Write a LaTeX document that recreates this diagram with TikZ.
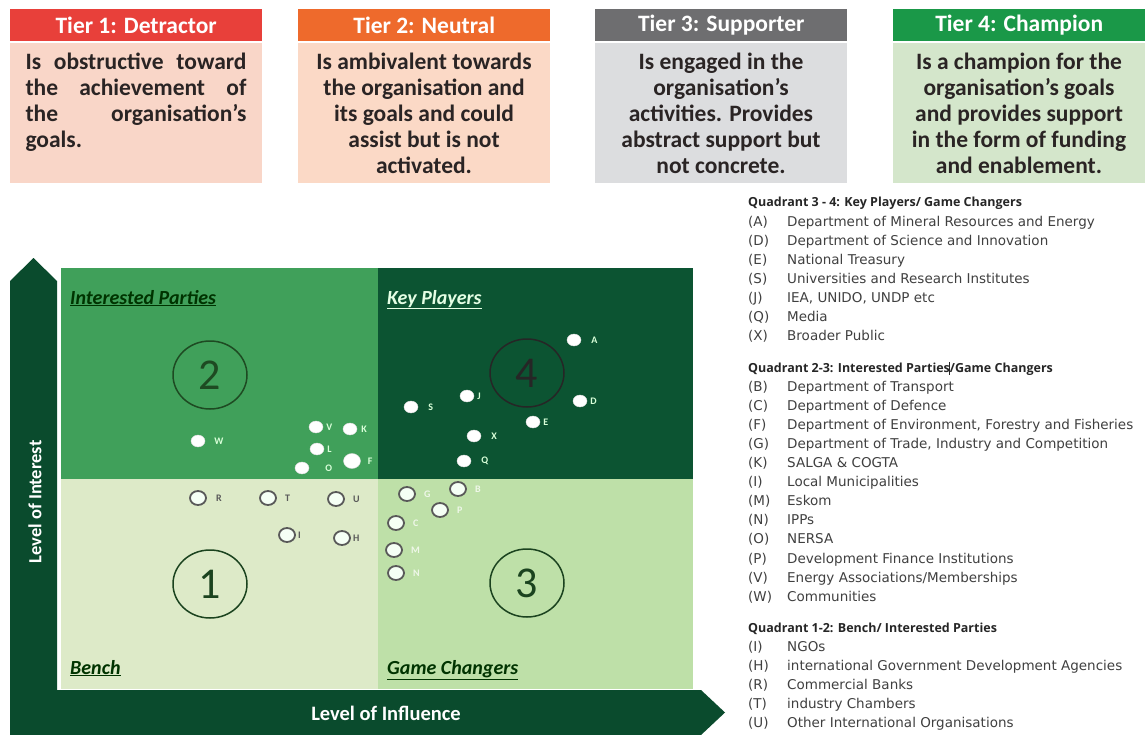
\documentclass[tikz,border=0pt]{standalone}
\usepackage{fontspec}
\setmainfont{Carlito}
\newfontfamily\legendfont{DejaVu Sans}
\newfontfamily\legendheadfont{Open Sans}
\usetikzlibrary{shapes.geometric}

\definecolor{hdred}{HTML}{E8403A}
\definecolor{hdorange}{HTML}{EE6A2C}
\definecolor{hdgray}{HTML}{6E6E70}
\definecolor{hdgreen}{HTML}{1A9848}
\definecolor{bdpeach}{HTML}{F9D6C8}
\definecolor{bdpeachb}{HTML}{FBD9C6}
\definecolor{bdgray}{HTML}{DCDDDF}
\definecolor{bdgreen}{HTML}{D4E6CB}
\definecolor{bodytext}{HTML}{2A2424}
\definecolor{qtwo}{HTML}{40A05A}
\definecolor{qfour}{HTML}{0C5432}
\definecolor{qone}{HTML}{DDEAC8}
\definecolor{qthree}{HTML}{BEE0A8}
\definecolor{axisgreen}{HTML}{0A4B2D}
\definecolor{ringgreen}{HTML}{1E4A22}
\definecolor{legendtext}{HTML}{404040}

\begin{document}
\begin{tikzpicture}[x=1pt,y=-1pt,
  tierhead/.style={anchor=north west, minimum width=252pt, minimum height=32pt,
    inner sep=0pt, text=white, font=\bfseries\fontsize{23.5}{25}\selectfont},
  tierbody/.style={anchor=north west, minimum width=252pt, minimum height=140pt, inner sep=0pt},
  tiertext/.style={anchor=north, inner sep=0pt, text=bodytext,
    font=\bfseries\fontsize{23.5}{26}\selectfont},
  quadtitle/.style={anchor=base west, inner sep=0pt,
    font=\bfseries\itshape\fontsize{20}{22}\selectfont},
  ring/.style={ellipse, minimum width=74pt, minimum height=68pt, inner sep=0pt,
    line width=1.5pt, font=\fontsize{44}{44}\selectfont},
  wdot/.style={ellipse, fill=white, draw=gray!30, line width=0.4pt,
    minimum width=14pt, minimum height=12pt, inner sep=0pt},
  odot/.style={ellipse, fill=white!96!green, draw=gray!70!black, line width=1.8pt,
    minimum width=16pt, minimum height=14pt, inner sep=0pt},
  dotlbl/.style={anchor=west, inner sep=0pt, label distance=5pt,
    font=\bfseries\fontsize{10}{11}\selectfont},
  axislbl/.style={inner sep=0pt, text=white},
  legend/.style={anchor=base west, inner sep=0pt, text=legendtext,
    font=\legendfont\fontsize{13.5}{14}\selectfont},
  legendhead/.style={anchor=base west, inner sep=0pt, text=black!85,
    font=\legendheadfont\bfseries\fontsize{12.5}{13}\selectfont}
]
\useasboundingbox (0,0) rectangle (1147,735);
\fill[white] (0,0) rectangle (1147,735);

% ---------- tier cards ----------
\node[tierhead, fill=hdred]    (h1) at (10,9)  {Tier 1: Detractor};
\node[tierhead, fill=hdorange] (h2) at (298,9) {Tier 2: Neutral};
\node[tierhead, fill=hdgray]   (h3) at (595,9) {Tier 3: Supporter};
\node[tierhead, fill=hdgreen]  (h4) at (893,9) {Tier 4: Champion};

\node[tierbody, fill=bdpeach]  (b1) at (10,43)  {};
\node[tierbody, fill=bdpeachb] (b2) at (298,43) {};
\node[tierbody, fill=bdgray]   (b3) at (595,43) {};
\node[tierbody, fill=bdgreen]  (b4) at (893,43) {};

\node[tiertext, align=left] (t1) at (136,52.5)
  {\makebox[221pt][s]{Is obstructive toward}\\
   \makebox[221pt][s]{the achievement of}\\
   \makebox[221pt][s]{the organisation’s}\\
   goals.};
\node[tiertext, align=center] (t2) at (424,52.5)
  {Is ambivalent towards\\ the organisation and\\ its goals and could\\ assist but is not\\ activated.};
\node[tiertext, align=center] (t3) at (721,52.5)
  {Is engaged in the\\ organisation’s\\ activities. Provides\\ abstract support but\\ not concrete.};
\node[tiertext, align=center] (t4) at (1019,52.5)
  {Is a champion for the\\ organisation’s goals\\ and provides support\\ in the form of funding\\ and enablement.};

% ---------- quadrants ----------
\fill[qtwo]   (61,268)  rectangle (378,479);
\fill[qfour]  (378,268) rectangle (693,479);
\fill[qone]   (61,479)  rectangle (378,689);
\fill[qthree] (378,479) rectangle (693,689);

% axes: one L-shaped band with two arrow heads
\fill[axisgreen] (10,735) -- (10,281) -- (33.5,258) -- (57,281) -- (57,690)
  -- (701,690) -- (725,712.5) -- (701,735) -- cycle;

\node[axislbl, rotate=90, font=\bfseries\fontsize{18.5}{20}\selectfont] (yax) at (35,502) {Level of Interest};
\node[axislbl, font=\bfseries\fontsize{20.5}{22}\selectfont] (xax) at (386,713) {Level of Influence};

% quadrant titles
\node[quadtitle, text=black!80!green] (qt2) at (70,304) {\underline{Interested Parties}};
\node[quadtitle, text=white!90!green] (qt4) at (387,304) {\underline{Key Players}};
\node[quadtitle, text=black!80!green] (qt1) at (70,674) {\underline{Bench}};
\node[quadtitle, text=black!80!green] (qt3) at (387,674) {\underline{Game Changers}};

% quadrant numbers
\node[ring, draw=ringgreen, text=ringgreen] (r2) at (210,375) {2};
\node[ring, draw=black!85, text=black!85]   (r4) at (527,373) {4};
\node[ring, draw=ringgreen!90!black, text=ringgreen!90!black] (r1) at (210,584) {1};
\node[ring, draw=ringgreen!90!black, text=ringgreen!90!black] (r3) at (527,583) {3};

% ---------- stakeholders ----------
% quadrant 2
\foreach \n/\x/\y/\d in {W/198/441/9, V/316/427/3, K/350/429/4, L/317/449/3, O/302/468/16}
  \node[wdot, label={[dotlbl, label distance=\d pt, text=white!85!green]right:\n}] (d\n) at (\x,\y) {};
\node[wdot, minimum width=17pt, minimum height=15pt,
  label={[dotlbl, label distance=7pt, text=white!85!green]right:F}] (dF) at (352,461) {};
% quadrant 4
\foreach \n/\x/\y/\d in {A/574/340/10, D/580/401/3, E/533/422/3, S/411/407/10, J/467/396/3, X/474/436/10, Q/464/461/10}
  \node[wdot, label={[dotlbl, label distance=\d pt, text=white!85!green]right:\n}] (d\n) at (\x,\y) {};
% quadrant 1
\foreach \n/\x/\y/\d in {R/198/498/9, T/268/498/8, U/336/499/8, I/287/535/2, H/342/538/2}
  \node[odot, label={[dotlbl, label distance=\d pt, text=black!65]right:\n}] (d\n) at (\x,\y) {};
% quadrant 3
\foreach \n/\x/\y in {G/407/494, B/458/489, P/440/510, C/396/523, M/394/550, N/396/573}
  \node[odot, label={[dotlbl, label distance=8pt, text=white!75!qthree]right:\n}] (d\n) at (\x,\y) {};

% ---------- key ----------
\node[legendhead] (k1) at (748,207) {Quadrant 3 - 4: Key Players/ Game Changers};
\foreach \c/\t [count=\i] in {A/{Department of Mineral Resources and Energy},
    D/{Department of Science and Innovation}, E/{National Treasury},
    S/{Universities and Research Institutes}, J/{IEA, UNIDO, UNDP etc},
    Q/{Media}, X/{Broader Public}} {
  \node[legend] (ka\i) at (748,207+19.1*\i) {(\c)};
  \node[legend] (kb\i) at (787,207+19.1*\i) {\t};
}

\node[legendhead] (k2) at (748,372)
  {Quadrant 2-3: Interested Parties\rlap{\kern-0.5pt\rule[-2.5pt]{0.7pt}{13pt}}/Game Changers};
\foreach \c/\t [count=\i] in {B/{Department of Transport}, C/{Department of Defence},
    F/{Department of Environment, Forestry and Fisheries},
    G/{Department of Trade, Industry and Competition}, K/{SALGA \& COGTA},
    I/{Local Municipalities}, M/{Eskom}, N/{IPPs}, O/{NERSA},
    P/{Development Finance Institutions}, V/{Energy Associations/Memberships},
    W/{Communities}} {
  \node[legend] (kc\i) at (748,372+19.1*\i) {(\c)};
  \node[legend] (kd\i) at (787,372+19.1*\i) {\t};
}

\node[legendhead] (k3) at (748,632) {Quadrant 1-2: Bench/ Interested Parties};
\foreach \c/\t [count=\i] in {I/{NGOs}, H/{international Government Development Agencies},
    R/{Commercial Banks}, T/{industry Chambers}, U/{Other International Organisations}} {
  \node[legend] (ke\i) at (748,632+19.1*\i) {(\c)};
  \node[legend] (kf\i) at (787,632+19.1*\i) {\t};
}
\end{tikzpicture}
\end{document}
